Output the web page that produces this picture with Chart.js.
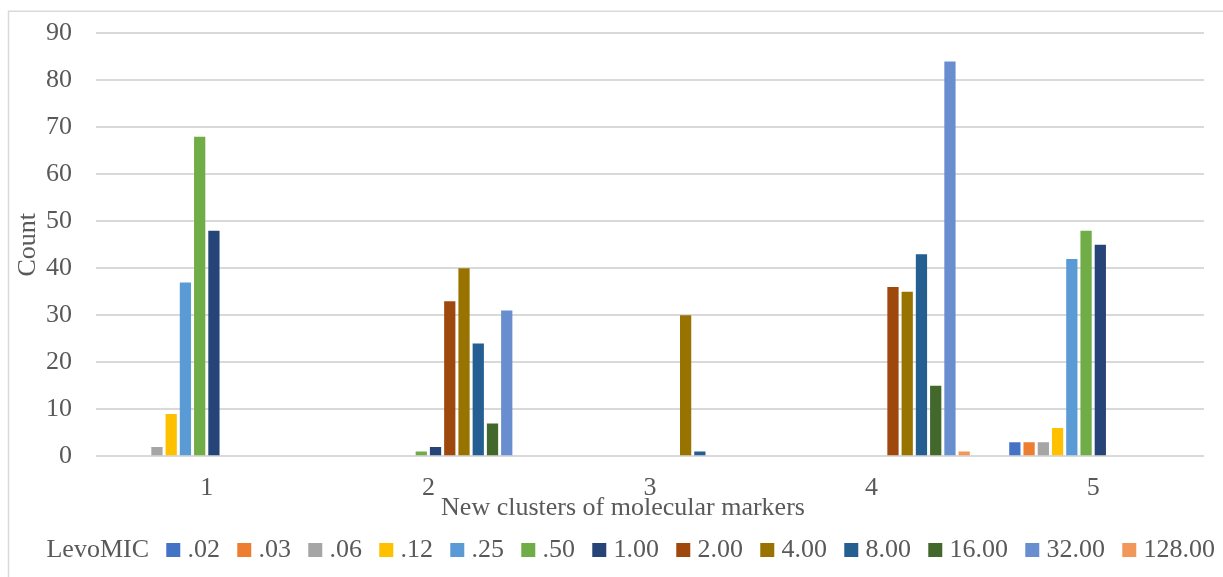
<!DOCTYPE html>
<html>
<head>
<meta charset="utf-8">
<script src="https://cdn.jsdelivr.net/npm/chart.js@4/dist/chart.umd.min.js"></script>
<style>
  html, body { margin: 0; padding: 0; background: #ffffff; }
  #wrap { position: relative; width: 1223px; height: 577px; }
</style>
</head>
<body>
<div id="wrap"><canvas id="chart"></canvas></div>
<script>
// Clusters on the x axis
const clusters = ['1', '2', '3', '4', '5'];

// Levofloxacin MIC classes (series names)
const micLabels = ['.02', '.03', '.06', '.12', '.25', '.50', '1.00', '2.00', '4.00', '8.00', '16.00', '32.00', '128.00'];

// Counts per cluster for each MIC class
const mic002 = [0, 0, 0, 0, 3];
const mic003 = [0, 0, 0, 0, 3];
const mic006 = [2, 0, 0, 0, 3];
const mic012 = [9, 0, 0, 0, 6];
const mic025 = [37, 0, 0, 0, 42];
const mic050 = [68, 1, 0, 0, 48];
const mic100 = [48, 2, 0, 0, 45];
const mic200 = [0, 33, 0, 36, 0];
const mic400 = [0, 40, 30, 35, 0];
const mic800 = [0, 24, 1, 43, 0];
const mic1600 = [0, 7, 0, 15, 0];
const mic3200 = [0, 31, 0, 84, 0];
const mic12800 = [0, 0, 0, 1, 0];

// Header series: named in the legend, carries no values
const headerName = 'LevoMIC';
const headerValues = [null, null, null, null, null];

// Count axis range
const countMin = 0;
const countMax = 90;
const countStep = 10;

const micSeries = [mic002, mic003, mic006, mic012, mic025, mic050, mic100,
                   mic200, mic400, mic800, mic1600, mic3200, mic12800];

const micColors = ['#4472C4', '#ED7D31', '#A5A5A5', '#FFC000', '#5B9BD5', '#70AD47', '#264478',
                   '#9E480E', '#997300', '#255E91', '#43682B', '#698ED0', '#F1975A'];

const textColor = '#595959';
const gridColor = '#D9D9D9';
const serif = "'Liberation Serif', 'Times New Roman', serif";
const font26 = { family: serif, size: 26, lineHeight: 1.2 };

Chart.defaults.font.family = serif;
Chart.defaults.color = textColor;

// Light outline of the chart area
const frame = {
  id: 'frame',
  beforeDraw(chart) {
    const { ctx, width, height } = chart;
    ctx.save();
    ctx.fillStyle = '#ffffff';
    ctx.fillRect(0, 0, width, height);
    ctx.strokeStyle = gridColor;
    ctx.lineWidth = 1.5;
    ctx.beginPath();
    ctx.moveTo(8.5, height);
    ctx.lineTo(8.5, 11.25);
    ctx.lineTo(width, 11.25);
    ctx.stroke();
    ctx.restore();
  }
};

const datasets = [{
  label: headerName,
  data: headerValues,
  backgroundColor: 'rgba(0,0,0,0)',
  borderWidth: 0
}].concat(micSeries.map((values, i) => ({
  label: micLabels[i],
  data: values,
  backgroundColor: micColors[i],
  borderWidth: 0
})));

new Chart(document.getElementById('chart'), {
  type: 'bar',
  data: { labels: clusters, datasets },
  plugins: [frame],
  options: {
    responsive: true,
    maintainAspectRatio: false,
    animation: false,
    categoryPercentage: 0.9,
    barPercentage: 0.79,
    layout: { padding: { left: 6.5, right: -16.5, top: 33.3, bottom: 4 } },
    plugins: {
      tooltip: { enabled: false },
      title: {
        display: true,
        position: 'bottom',
        weight: 500,
        text: 'New clusters of molecular markers',
        color: textColor,
        font: { ...font26, weight: 'normal' },
        padding: { top: -3.4, bottom: -10.1 }
      },
      legend: {
        position: 'bottom',
        align: 'center',
        labels: {
          color: textColor,
          font: font26,
          usePointStyle: true,
          pointStyle: 'rect',
          boxWidth: 2.5,
          boxHeight: 14,
          padding: 23
        }
      }
    },
    scales: {
      x: {
        grid: { display: false, drawTicks: false },
        border: { display: false },
        ticks: { color: textColor, font: font26, padding: 16 },
        afterFit(scale) { scale.height = 40; }
      },
      y: {
        min: countMin,
        max: countMax,
        ticks: { stepSize: countStep, color: textColor, font: font26, padding: 16 },
        grid: { color: gridColor, lineWidth: 2, drawTicks: true, tickLength: 8, tickColor: 'rgba(0,0,0,0)' },
        border: { display: false },
        title: {
          display: true,
          text: 'Count',
          color: textColor,
          font: font26,
          padding: { top: 5.9, bottom: 0 }
        },
        afterFit(scale) { scale.width = 89.5; }
      },
      // keeps a margin on the right of the plot
      edge: {
        type: 'linear',
        position: 'right',
        display: true,
        grid: { display: false, drawTicks: false },
        border: { display: false },
        ticks: { display: false },
        afterFit(scale) { scale.width = 35.5; }
      }
    }
  }
});
</script>
</body>
</html>
